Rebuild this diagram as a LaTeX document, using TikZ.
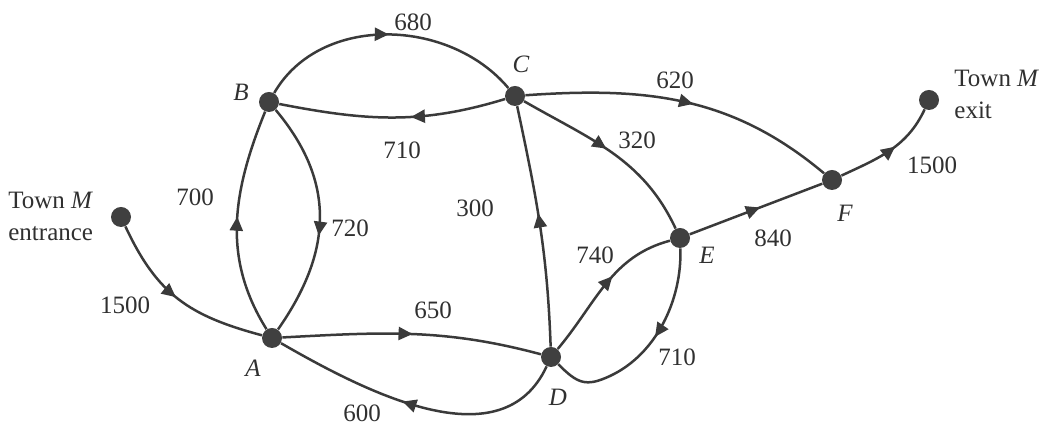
\documentclass[tikz,border=0pt]{standalone}
\usepackage{fontspec}
\setmainfont{Liberation Serif}
\usetikzlibrary{arrows.meta,decorations.markings}
\definecolor{linec}{HTML}{3A3A3A}
\definecolor{dotc}{HTML}{404040}
\definecolor{textc}{HTML}{303030}
\begin{document}
\begin{tikzpicture}[x=0.5pt,y=0.5pt,
  dot/.style={circle,fill=dotc,minimum size=10pt,inner sep=0pt},
  road/.style={color=linec,line width=1.25pt},
  flow/.style={postaction={decorate},decoration={markings,
     mark=at position #1 with {\arrow{Triangle[length=7pt,width=6.5pt]}}}},
  lbl/.style={font=\fontsize{12.5}{15}\selectfont,text=textc,inner sep=0pt},
  town/.style={lbl,align=left,anchor=west}]
\useasboundingbox (0,0) rectangle (1047,426);

% junctions
\node[dot] (en) at (121,209) {};
\node[dot] (A) at (272,88) {};
\node[dot] (B) at (269,324) {};
\node[dot] (C) at (515,330) {};
\node[dot] (D) at (551,69) {};
\node[dot] (E) at (680,188) {};
\node[dot] (F) at (832,246) {};
\node[dot] (X) at (929,326) {};
\coordinate (w) at (610,50);

% names
\node[lbl] (lA) at (253,58) {\textit{A}};
\node[lbl] (lB) at (241,334) {\textit{B}};
\node[lbl] (lC) at (521,362) {\textit{C}};
\node[lbl] (lD) at (558,29) {\textit{D}};
\node[lbl] (lE) at (707,171) {\textit{E}};
\node[lbl] (lF) at (845,213) {\textit{F}};
\node[town] (ten) at (8,210) {Town \textit{M}\\[1pt]entrance};
\node[town] (tex) at (954,332) {Town \textit{M}\\[1pt]exit};

% roads
\draw[road,flow=0.48] (en) to[out=-65,in=165,looseness=1.1] (A);
\draw[road,flow=0.52] (A) to[out=122,in=-112] (B);
\draw[road,flow=0.57] (B) to[out=-50,in=55,looseness=1.1] (A);
\draw[road,flow=0.5] (B) to[out=60,in=130] (C);
\draw[road,flow=0.42] (C) to[out=-163,in=-11] (B);
\draw[road,flow=0.55] (D) to[out=92,in=-78] (C);
\draw[road,flow=0.53] (C) to[out=4,in=140] (F);
\draw[road,flow=0.47] (C) to[out=-30,in=115] (E);
\draw[road,flow=0.53] (E) -- (F);
\draw[road,flow=0.56] (F) to[out=25,in=-115] (X);
\draw[road,flow=0.5] (A) to[out=3,in=165] (D);
\draw[road,flow=0.55] (D) to[out=-115,in=-30] (A);
\draw[road,flow=0.57] (D) to[out=50,in=-165] (E);
\draw[road,flow=0.44] (E) to[out=-88,in=25,looseness=0.9] (w)
   to[out=205,in=-45,looseness=1.3] (D);

% distances
\node[lbl] (d1) at (125,121) {1500};
\node[lbl] (d2) at (195,229) {700};
\node[lbl] (d3) at (350,198) {720};
\node[lbl] (d4) at (413,404) {680};
\node[lbl] (d5) at (402,276) {710};
\node[lbl] (d6) at (475,218) {300};
\node[lbl] (d7) at (675,346) {620};
\node[lbl] (d8) at (637,286) {320};
\node[lbl] (d9) at (773,188) {840};
\node[lbl] (d10) at (932,261) {1500};
\node[lbl] (d11) at (433,116) {650};
\node[lbl] (d12) at (362,13) {600};
\node[lbl] (d13) at (595,171) {740};
\node[lbl] (d14) at (677,69) {710};
\end{tikzpicture}
\end{document}
